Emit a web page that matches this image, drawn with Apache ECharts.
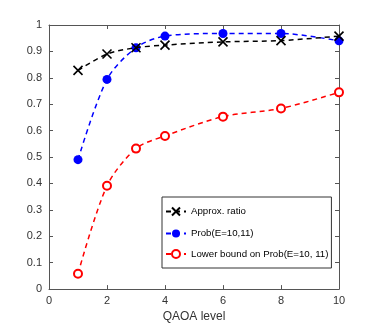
<!DOCTYPE html>
<html>
<head>
<meta charset="utf-8">
<script src="https://cdn.jsdelivr.net/npm/echarts@6/dist/echarts.min.js"></script>
<style>
  html, body { margin: 0; padding: 0; background: #fff; }
  #chart { width: 374px; height: 328px; }
</style>
</head>
<body>
<div id="chart"></div>
<script>
// QAOA levels and the three curves
const levels = [1, 2, 3, 4, 6, 8, 10];
const approxRatio = [0.828, 0.89, 0.914, 0.924, 0.936, 0.941, 0.958];
const probE = [0.49, 0.794, 0.914, 0.958, 0.968, 0.968, 0.94];
const lowerBound = [0.058, 0.391, 0.532, 0.58, 0.653, 0.684, 0.745];

const xTicks = [0, 2, 4, 6, 8, 10];
const yTicks = [0, 0.1, 0.2, 0.3, 0.4, 0.5, 0.6, 0.7, 0.8, 0.9, 1];

function pairs(ys) {
    return levels.map((x, i) => [x, ys[i]]);
}

const chart = echarts.init(document.getElementById('chart'));
const axisCol = '#555';
const font = 'Liberation Sans';

const baseAxis = {
    type: 'value',
    axisLine: { show: true, onZero: false, lineStyle: { color: axisCol, width: 1 } },
    axisTick: { show: true, inside: true, length: 4, lineStyle: { color: axisCol } },
    splitLine: { show: false }
};

chart.setOption({
    animation: false,
    grid: { left: 49, right: 35, top: 25, bottom: 36 },
    xAxis: [
        Object.assign({}, baseAxis, {
            min: 0, max: 10, interval: 2,
            name: 'QAOA level', nameLocation: 'middle', nameGap: 20,
            nameTextStyle: { fontFamily: font, fontSize: 12, color: '#333' },
            axisLabel: { fontFamily: font, fontSize: 11, color: '#333', margin: 6 }
        }),
        Object.assign({}, baseAxis, {
            min: 0, max: 10, interval: 2, position: 'top',
            axisLabel: { show: false }
        })
    ],
    yAxis: [
        Object.assign({}, baseAxis, {
            min: 0, max: 1, interval: 0.1,
            axisLabel: { fontFamily: font, fontSize: 11, color: '#333', margin: 7 }
        }),
        Object.assign({}, baseAxis, {
            min: 0, max: 1, interval: 0.1, position: 'right',
            axisLabel: { show: false }
        })
    ],
    legend: {
        orient: 'vertical',
        left: 162, top: 197,
        padding: [8, 3, 9, 3],
        itemGap: 10.5,
        itemWidth: 20, itemHeight: 10,
        borderColor: '#333', borderWidth: 1,
        backgroundColor: '#fff',
        textStyle: { fontFamily: font, fontSize: 9.7, color: '#000' },
        data: ['Approx. ratio', 'Prob(E=10,11)', 'Lower bound on Prob(E=10, 11)']
    },
    series: [
        {
            name: 'Approx. ratio',
            type: 'line',
            data: pairs(approxRatio),
            smooth: 0.3,
            color: '#000',
            symbol: 'path://M0,0L10,10M10,0L0,10',
            symbolSize: 9,
            itemStyle: { color: 'none', borderColor: '#000', borderWidth: 1.6 },
            lineStyle: { color: '#000', width: 1.5, type: [5, 4] },
            z: 3
        },
        {
            name: 'Prob(E=10,11)',
            type: 'line',
            data: pairs(probE),
            smooth: 0.3,
            color: '#0000ff',
            symbol: 'circle',
            symbolSize: 9,
            itemStyle: { color: '#0000ff' },
            lineStyle: { color: '#0000ff', width: 1.5, type: [5, 4] },
            z: 2
        },
        {
            name: 'Lower bound on Prob(E=10, 11)',
            type: 'line',
            data: pairs(lowerBound),
            smooth: 0.3,
            color: '#ff0000',
            symbol: 'emptyCircle',
            symbolSize: 8,
            itemStyle: { color: '#ff0000', borderWidth: 1.3 },
            lineStyle: { color: '#ff0000', width: 1.5, type: [5, 4] },
            z: 2
        }
    ]
});
</script>
</body>
</html>
